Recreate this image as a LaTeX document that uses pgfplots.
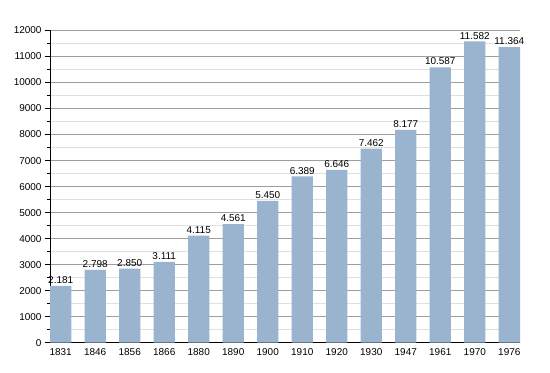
\documentclass[border=0pt]{standalone}
\usepackage{pgfplots}
\pgfplotsset{compat=1.18}
\usepackage{fontspec}
\setmainfont{Liberation Sans}
\definecolor{barblue}{HTML}{9AB3CE}
\begin{document}
\begin{tikzpicture}
\useasboundingbox (-50bp,-30.3bp) rectangle (500bp,342.7bp);
\begin{axis}[
  at={(0,0)}, anchor=south west,
  scale only axis,
  width=470bp, height=312.2bp,
  xmin=-0.31, xmax=13.31,
  ymin=0, ymax=12000,
  axis x line*=bottom, axis y line*=left,
  axis line style={black, line width=0.8pt},
  x axis line style={-}, y axis line style={-},
  xtick={0,...,13},
  xticklabels={1831,1846,1856,1866,1880,1890,1900,1910,1920,1930,1947,1961,1970,1976},
  x tick style={draw=none},
  ytick={0,1000,...,12000},
  minor y tick num=1,
  y tick style={black, line width=0.6pt},
  major tick length=5bp, minor tick length=2.5bp,
  tick align=outside,
  ymajorgrids, yminorgrids,
  major grid style={color=black!38, line width=0.7pt},
  minor grid style={color=black!12, line width=0.7pt},
  /pgf/number format/assume math mode=true,
  scaled y ticks=false,
  yticklabel style={/pgf/number format/1000 sep={}, font=\fontsize{10}{12}\selectfont},
  xticklabel style={font=\fontsize{10}{12}\selectfont, yshift=3bp},
  ybar, bar width=0.62,
  nodes near coords={\pgfmathprintnumber[1000 sep={.},assume math mode=true]{\pgfplotspointmeta}},
  every node near coord/.append style={font=\fontsize{10}{12}\selectfont, black, inner sep=2pt},
]
\addplot[fill=barblue, draw=none] coordinates {
(0,2181) (1,2798) (2,2850) (3,3111) (4,4115) (5,4561) (6,5450)
(7,6389) (8,6646) (9,7462) (10,8177) (11,10587) (12,11582) (13,11364)
};
\end{axis}
\end{tikzpicture}
\end{document}
